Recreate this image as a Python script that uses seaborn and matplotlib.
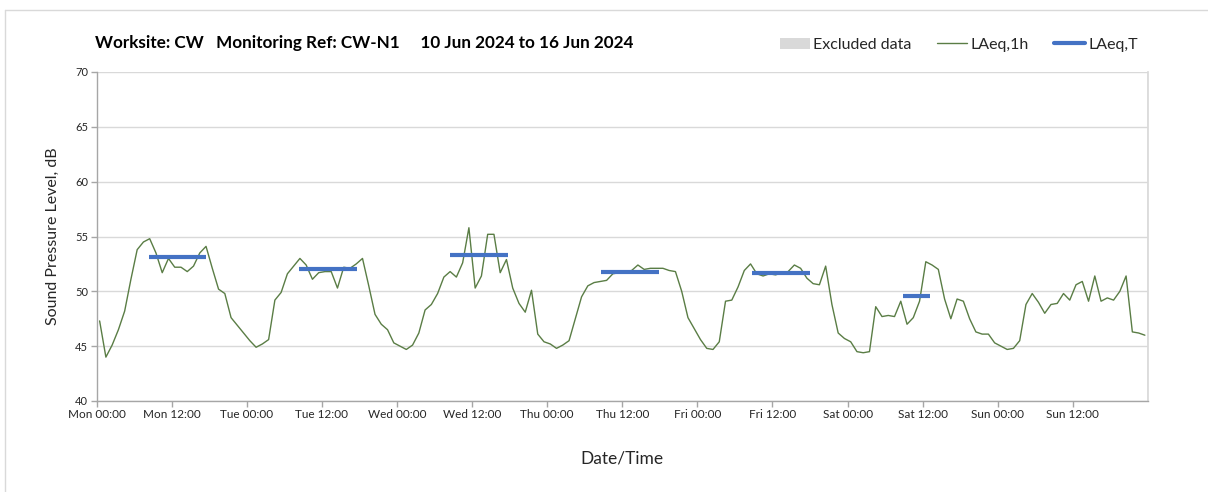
import numpy as np
import pandas as pd
import matplotlib
matplotlib.use("Agg")
import matplotlib.pyplot as plt
from matplotlib.patches import Patch
from matplotlib.lines import Line2D
import seaborn as sns

# hourly LAeq,1h per day, dB(A)
mon = [47.3, 44.0, 45.1, 46.5, 48.2, 51.1, 53.8, 54.5, 54.8, 53.5, 51.7, 53.0,
       52.2, 52.2, 51.8, 52.3, 53.5, 54.1, 52.1, 50.2, 49.8, 47.6, 46.9, 46.2]
tue = [45.5, 44.9, 45.2, 45.6, 49.2, 49.9, 51.6, 52.3, 53.0, 52.4, 51.1, 51.7,
       51.8, 51.8, 50.3, 52.2, 52.1, 52.5, 53.0, 50.5, 47.9, 47.0, 46.5, 45.3]
wed = [45.0, 44.7, 45.1, 46.2, 48.3, 48.8, 49.8, 51.3, 51.8, 51.3, 52.6, 55.8,
       50.3, 51.4, 55.2, 55.2, 51.7, 52.9, 50.3, 48.9, 48.1, 50.1, 46.1, 45.4]
thu = [45.2, 44.8, 45.1, 45.5, 47.5, 49.5, 50.5, 50.8, 50.9, 51.0, 51.6, 51.7,
       51.8, 51.9, 52.4, 52.0, 52.1, 52.1, 52.1, 51.9, 51.8, 50.0, 47.6, 46.6]
fri = [45.6, 44.8, 44.7, 45.4, 49.1, 49.2, 50.4, 51.9, 52.5, 51.6, 51.4, 51.6,
       51.5, 51.7, 51.8, 52.4, 52.1, 51.2, 50.7, 50.6, 52.3, 48.8, 46.2, 45.7]
sat = [45.4, 44.5, 44.4, 44.5, 48.6, 47.7, 47.8, 47.7, 49.1, 47.0, 47.6, 49.1,
       52.7, 52.4, 52.0, 49.3, 47.5, 49.3, 49.1, 47.5, 46.3, 46.1, 46.1, 45.3]
sun = [45.0, 44.7, 44.8, 45.5, 48.8, 49.8, 49.0, 48.0, 48.8, 48.9, 49.8, 49.2,
       50.6, 50.9, 49.1, 51.4, 49.1, 49.4, 49.2, 50.0, 51.4, 46.3, 46.2, 46.0]

# LAeq,T daytime periods (day index, start hour, end hour, level)
laeqt_day = [0, 1, 2, 3, 4, 5]
laeqt_start = [8.4, 8.4, 8.4, 8.6, 8.7, 8.8]
laeqt_end = [17.5, 17.7, 17.8, 17.9, 18.0, 13.1]
laeqt_level = [53.1, 52.0, 53.3, 51.8, 51.7, 49.6]

day_names = ["Mon", "Tue", "Wed", "Thu", "Fri", "Sat", "Sun"]

levels = mon + tue + wed + thu + fri + sat + sun
hourly = pd.DataFrame({"hour": np.arange(len(levels)) + 0.5, "level": levels})

rows = []
for d, s, e, v in zip(laeqt_day, laeqt_start, laeqt_end, laeqt_level):
    rows.append({"period": d, "hour": d * 24 + s, "level": v})
    rows.append({"period": d, "hour": d * 24 + e, "level": v})
periods = pd.DataFrame(rows)

sns.set_theme(style="white")
plt.rcParams['font.family'] = ['Lato', 'DejaVu Sans']

W, H = 1208, 492
fig = plt.figure(figsize=(W / 100, H / 100), dpi=100)
ax = fig.add_axes([96.5 / W, 1 - 401 / H, (1148 - 96.5) / W, (401 - 72) / H])

green = "#5A7D45"
blue = "#4472C4"

sns.lineplot(data=hourly, x="hour", y="level", ax=ax, color=green, lw=1.0)
sns.lineplot(data=periods, x="hour", y="level", units="period", estimator=None,
             ax=ax, color=blue, lw=3, solid_capstyle="butt")

ax.set_xlim(0, 168)
ax.set_ylim(40, 70)

tick_pos = np.arange(0, 168, 12)
tick_lab = [f"{day_names[int(t // 24)]} {'00:00' if t % 24 == 0 else '12:00'}" for t in tick_pos]
ax.set_xticks(tick_pos)
ax.set_xticklabels(tick_lab)
ax.set_xticks(np.arange(0, 169, 24), minor=True)
ax.set_yticks(np.arange(40, 71, 5))

grid_c = "#D9D9D9"
ax.grid(axis="y", which="major", color=grid_c, lw=1)
ax.grid(axis="x", which="minor", color=grid_c, lw=1)
ax.grid(axis="x", which="major", visible=False)

ax.spines["top"].set_visible(False)
ax.spines["right"].set_color(grid_c)
for side in ["left", "bottom"]:
    ax.spines[side].set_color("#A6A6A6")
    ax.spines[side].set_linewidth(1)

ax.tick_params(axis="both", which="major", bottom=True, left=True, length=4,
               width=1, color="#A6A6A6", direction="out", labelsize=8.5,
               labelcolor="#262626", pad=2)
ax.tick_params(axis="x", which="minor", bottom=False)
ax.tick_params(axis="y", labelsize=8)

ax.set_xlabel("Date/Time", fontsize=12.5, color="#262626", labelpad=22)
ax.set_ylabel("Sound Pressure Level, dB", fontsize=11.5, color="#262626", labelpad=11)

fig.text(95 / W, 1 - 43 / H,
         "Worksite: CW   Monitoring Ref: CW-N1     10 Jun 2024 to 16 Jun 2024",
         fontsize=12.3, fontweight="bold", color="black", va="center")

handles = [Patch(facecolor="#D9D9D9", edgecolor="none", label="Excluded data"),
           Line2D([], [], color=green, lw=1, label="LAeq,1h"),
           Line2D([], [], color=blue, lw=3, label="LAeq,T")]
fig.legend(handles=handles, loc="center right", bbox_to_anchor=(1152 / W, 1 - 45 / H),
           ncol=3, frameon=False, fontsize=11.5, handlelength=1.9, handletextpad=0.2,
           columnspacing=1.6, labelcolor="#262626")

# outer frame of the chart area
fig.add_artist(Line2D([5 / W, 1], [1 - 10 / H, 1 - 10 / H], transform=fig.transFigure,
                      color="#D9D9D9", lw=1))
fig.add_artist(Line2D([5 / W, 5 / W], [0, 1 - 10 / H], transform=fig.transFigure,
                      color="#D9D9D9", lw=1))

fig.savefig("out.png", dpi=100, facecolor="white")
